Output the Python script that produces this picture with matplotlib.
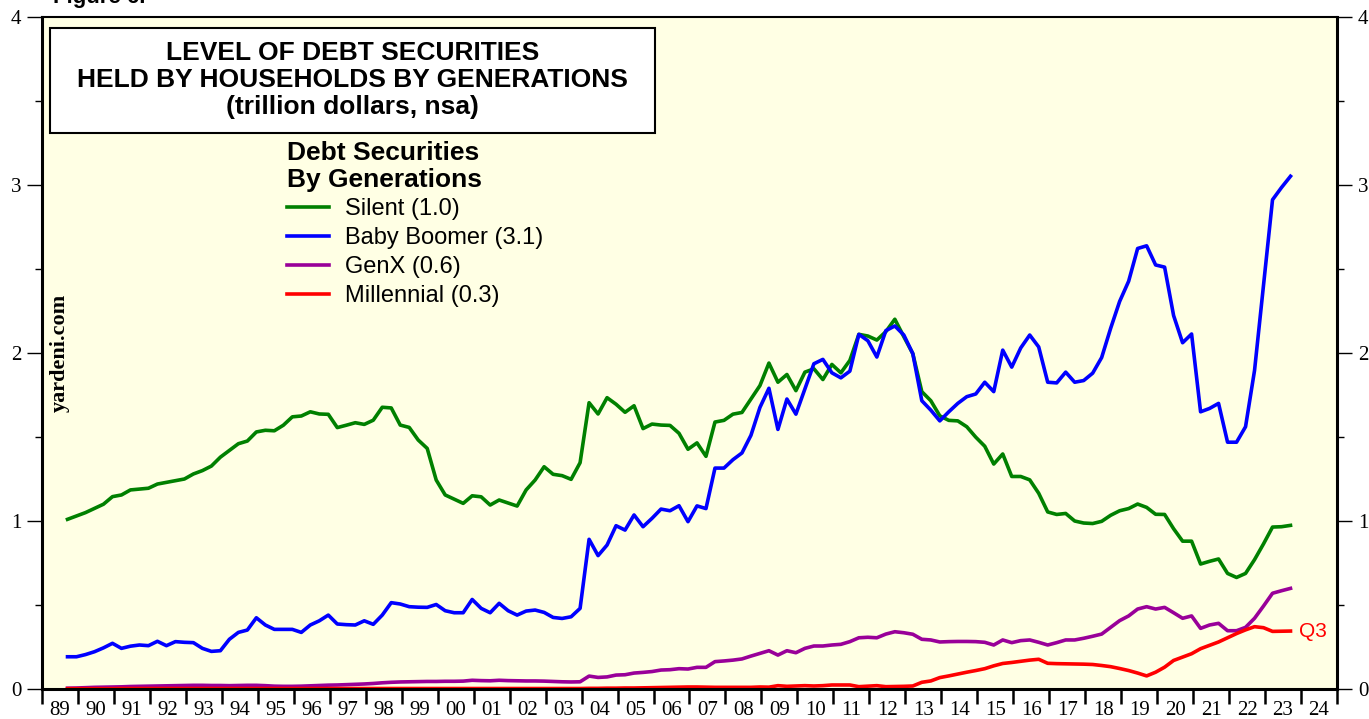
import matplotlib

matplotlib.use("Agg")

import matplotlib.pyplot as plt
import numpy as np
import pandas as pd
from matplotlib.lines import Line2D
from matplotlib.patches import Rectangle
from matplotlib.ticker import FixedLocator, FixedFormatter, MultipleLocator

# quarterly levels, trillion dollars, 1989Q3 .. 2023Q3
first_quarter = "1989Q3"
last_quarter = "2023Q3"

silent = [
    1.010, 1.030, 1.050, 1.075, 1.100, 1.145, 1.155, 1.185, 1.190, 1.195,
    1.220, 1.230, 1.240, 1.250, 1.280, 1.300, 1.327, 1.380, 1.420, 1.460,
    1.476, 1.530, 1.540, 1.537, 1.570, 1.620, 1.625, 1.650, 1.637, 1.635,
    1.556, 1.570, 1.585, 1.575, 1.600, 1.677, 1.673, 1.571, 1.557, 1.482,
    1.432, 1.244, 1.155, 1.130, 1.105, 1.150, 1.144, 1.095, 1.125, 1.107,
    1.089, 1.185, 1.244, 1.323, 1.278, 1.270, 1.248, 1.347, 1.704, 1.637,
    1.734, 1.695, 1.647, 1.686, 1.550, 1.577, 1.571, 1.569, 1.522, 1.427,
    1.465, 1.385, 1.589, 1.599, 1.636, 1.646, 1.726, 1.806, 1.940, 1.826,
    1.872, 1.776, 1.886, 1.906, 1.842, 1.932, 1.882, 1.956, 2.111, 2.101,
    2.077, 2.127, 2.201, 2.097, 1.996, 1.770, 1.716, 1.626, 1.599, 1.596,
    1.561, 1.499, 1.445, 1.339, 1.399, 1.265, 1.265, 1.245, 1.165, 1.054,
    1.039, 1.045, 1.000, 0.988, 0.985, 0.998, 1.034, 1.061, 1.074, 1.101,
    1.081, 1.040, 1.039, 0.954, 0.880, 0.880, 0.744, 0.760, 0.774, 0.688,
    0.664, 0.688, 0.770, 0.864, 0.964, 0.966, 0.974,
]

baby_boomer = [
    0.192, 0.192, 0.205, 0.222, 0.245, 0.272, 0.242, 0.255, 0.262, 0.258,
    0.284, 0.258, 0.282, 0.278, 0.276, 0.242, 0.224, 0.228, 0.296, 0.337,
    0.351, 0.424, 0.381, 0.355, 0.355, 0.355, 0.337, 0.381, 0.406, 0.440,
    0.387, 0.383, 0.381, 0.406, 0.385, 0.440, 0.514, 0.506, 0.490, 0.487,
    0.486, 0.503, 0.466, 0.454, 0.454, 0.533, 0.480, 0.454, 0.510, 0.466,
    0.440, 0.464, 0.470, 0.456, 0.426, 0.420, 0.430, 0.480, 0.891, 0.794,
    0.857, 0.972, 0.946, 1.036, 0.966, 1.016, 1.071, 1.061, 1.091, 0.996,
    1.090, 1.074, 1.315, 1.315, 1.365, 1.405, 1.510, 1.676, 1.790, 1.545,
    1.726, 1.636, 1.786, 1.936, 1.962, 1.882, 1.852, 1.892, 2.111, 2.073,
    1.976, 2.133, 2.161, 2.107, 1.996, 1.716, 1.660, 1.596, 1.650, 1.700,
    1.740, 1.756, 1.826, 1.770, 2.017, 1.916, 2.030, 2.107, 2.036, 1.826,
    1.822, 1.886, 1.826, 1.836, 1.880, 1.973, 2.147, 2.307, 2.427, 2.622,
    2.638, 2.524, 2.511, 2.223, 2.061, 2.113, 1.650, 1.670, 1.700, 1.469,
    1.469, 1.561, 1.896, 2.407, 2.912, 2.985, 3.052,
]

genx = [
    0.005, 0.006, 0.008, 0.010, 0.011, 0.012, 0.013, 0.015, 0.016, 0.017,
    0.018, 0.019, 0.020, 0.021, 0.022, 0.022, 0.021, 0.021, 0.020, 0.021,
    0.022, 0.022, 0.020, 0.017, 0.016, 0.016, 0.017, 0.019, 0.021, 0.023,
    0.024, 0.026, 0.028, 0.030, 0.033, 0.037, 0.040, 0.042, 0.043, 0.044,
    0.045, 0.045, 0.046, 0.046, 0.047, 0.052, 0.050, 0.049, 0.052, 0.050,
    0.049, 0.048, 0.048, 0.047, 0.045, 0.043, 0.042, 0.043, 0.077, 0.069,
    0.072, 0.083, 0.085, 0.095, 0.099, 0.104, 0.113, 0.115, 0.121, 0.119,
    0.129, 0.129, 0.163, 0.167, 0.172, 0.179, 0.196, 0.212, 0.228, 0.202,
    0.228, 0.216, 0.242, 0.256, 0.256, 0.262, 0.266, 0.282, 0.305, 0.308,
    0.305, 0.327, 0.341, 0.335, 0.326, 0.296, 0.292, 0.280, 0.282, 0.283,
    0.283, 0.282, 0.278, 0.262, 0.292, 0.276, 0.288, 0.292, 0.278, 0.262,
    0.276, 0.292, 0.292, 0.302, 0.314, 0.327, 0.367, 0.407, 0.435, 0.476,
    0.490, 0.476, 0.486, 0.454, 0.421, 0.435, 0.361, 0.381, 0.391, 0.347,
    0.347, 0.367, 0.421, 0.494, 0.570, 0.585, 0.599,
]

millennial = [
    0.002, 0.002, 0.002, 0.002, 0.002, 0.002, 0.003, 0.003, 0.003, 0.003,
    0.003, 0.003, 0.003, 0.003, 0.003, 0.003, 0.003, 0.003, 0.003, 0.003,
    0.003, 0.003, 0.003, 0.003, 0.003, 0.003, 0.003, 0.003, 0.003, 0.003,
    0.003, 0.003, 0.003, 0.003, 0.003, 0.003, 0.003, 0.003, 0.003, 0.003,
    0.003, 0.003, 0.003, 0.003, 0.003, 0.003, 0.003, 0.003, 0.003, 0.003,
    0.003, 0.003, 0.003, 0.003, 0.003, 0.003, 0.003, 0.003, 0.004, 0.004,
    0.005, 0.005, 0.006, 0.006, 0.007, 0.008, 0.009, 0.010, 0.011, 0.012,
    0.012, 0.011, 0.010, 0.010, 0.010, 0.010, 0.010, 0.012, 0.011, 0.020,
    0.016, 0.018, 0.020, 0.018, 0.020, 0.024, 0.024, 0.024, 0.014, 0.017,
    0.020, 0.014, 0.015, 0.016, 0.018, 0.040, 0.048, 0.068, 0.078, 0.089,
    0.100, 0.110, 0.121, 0.138, 0.152, 0.158, 0.165, 0.172, 0.177, 0.153,
    0.151, 0.150, 0.149, 0.148, 0.146, 0.140, 0.133, 0.122, 0.110, 0.095,
    0.078, 0.100, 0.130, 0.170, 0.190, 0.210, 0.240, 0.260, 0.280, 0.305,
    0.330, 0.352, 0.371, 0.365, 0.343, 0.344, 0.345,
]

series_labels = ["Silent (1.0)", "Baby Boomer (3.1)", "GenX (0.6)", "Millennial (0.3)"]
series_colors = ["#008000", "#0000ff", "#990099", "#ff0000"]

year_first = 1989
year_last = 2025
year_labels = [f"{y % 100:02d}" for y in range(year_first, year_last)]

SANS = "Liberation Sans"
SERIF = "Liberation Serif"


def quarter_positions(start, end):
    quarters = pd.period_range(start, end, freq="Q")
    # plotted at the middle of each quarter's last month
    return np.array([q.year + (q.quarter * 3 - 0.5) / 12 for q in quarters])


def main():
    x = quarter_positions(first_quarter, last_quarter)

    fig = plt.figure(figsize=(13.69, 7.19), dpi=100)
    ax = fig.add_axes([0.0307, 0.0417, 0.9459, 0.9347])
    ax.set_facecolor("#ffffe4")

    all_series = [silent, baby_boomer, genx, millennial]
    for values, color in zip(all_series, series_colors):
        ax.plot(x, values, color=color, linewidth=2.6, solid_joinstyle="round")

    ax.set_xlim(year_first, year_last)
    ax.set_ylim(0, 4)

    # x axis: year ticks, labels sitting between them
    years = np.arange(year_first, year_last + 1)
    ax.xaxis.set_major_locator(FixedLocator(years))
    ax.xaxis.set_major_formatter(FixedFormatter([""] * len(years)))
    ax.xaxis.set_minor_locator(FixedLocator(years[:-1] + 0.5))
    ax.xaxis.set_minor_formatter(FixedFormatter(year_labels))
    ax.tick_params(axis="x", which="major", direction="out", length=11, width=1.8)
    ax.tick_params(axis="x", which="minor", length=0, pad=8.5, labelsize=15)

    # y axis on both sides
    ax.yaxis.set_major_locator(MultipleLocator(1))
    ax.yaxis.set_minor_locator(MultipleLocator(0.5))
    ax.tick_params(axis="y", which="both", direction="out", left=True, right=True,
                   labelleft=True, labelright=True, width=1)
    ax.tick_params(axis="y", which="major", length=11, pad=4, labelsize=15)
    ax.tick_params(axis="y", which="minor", length=5)

    for label in ax.get_xticklabels(minor=True) + ax.get_yticklabels():
        label.set_fontfamily(SERIF)
    for label in ax.yaxis.get_ticklabels(which="major"):
        label.set_fontfamily(SERIF)

    for side in ["left", "bottom", "right"]:
        ax.spines[side].set_linewidth(2.2)
    ax.spines["top"].set_linewidth(1.5)

    # title box
    ax.add_patch(Rectangle((0.0062, 0.8274), 0.4672, 0.1562, transform=ax.transAxes,
                           facecolor="white", edgecolor="black", linewidth=1.5, zorder=4))
    ax.text(0.2398, 0.9063,
            "LEVEL OF DEBT SECURITIES\nHELD BY HOUSEHOLDS BY GENERATIONS\n(trillion dollars, nsa)",
            transform=ax.transAxes, ha="center", va="center", fontsize=19,
            fontweight="bold", family=SANS, linespacing=1.16, zorder=5)

    # legend
    handles = [Line2D([], [], color=c, linewidth=2.6) for c in series_colors]
    leg = ax.legend(handles, series_labels, title="Debt Securities\nBy Generations",
                    loc="upper left", bbox_to_anchor=(0.189, 0.815), frameon=False,
                    prop={"family": SANS, "size": 17},
                    title_fontproperties={"family": SANS, "weight": "bold", "size": 19},
                    alignment="left", handlelength=1.8, handletextpad=0.65,
                    labelspacing=0.29, borderpad=0, borderaxespad=0)
    leg.get_title().set_linespacing(1.12)

    ax.text(0.014, 0.5, "yardeni.com", transform=ax.transAxes, rotation=90,
            ha="center", va="center", fontsize=16, fontweight="bold", family=SERIF)

    ax.annotate("Q3", xy=(x[-1], millennial[-1]), xytext=(6, 0),
                textcoords="offset points", va="center", ha="left",
                color="#ff0000", fontsize=15, family=SANS)

    fig.text(0.039, 1 - 3 / 719, "Figure 6.", ha="left", va="baseline",
             fontsize=16, fontweight="bold", family=SANS)

    fig.savefig("out.png", dpi=100)
    plt.close(fig)


if __name__ == "__main__":
    main()
